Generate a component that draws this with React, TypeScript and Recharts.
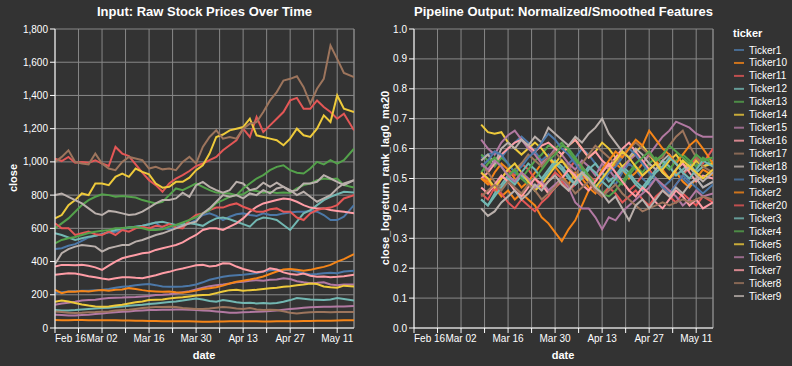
import { LineChart, Line, XAxis, YAxis, CartesianGrid, ReferenceLine } from "recharts";

// sampled every other day, last sample May 16
const dates = [
  "2025-02-16", "2025-02-18", "2025-02-20", "2025-02-22", "2025-02-24", "2025-02-26", "2025-02-28",
  "2025-03-02", "2025-03-04", "2025-03-06", "2025-03-08", "2025-03-10", "2025-03-12", "2025-03-14",
  "2025-03-16", "2025-03-18", "2025-03-20", "2025-03-22", "2025-03-24", "2025-03-26", "2025-03-28",
  "2025-03-30", "2025-04-01", "2025-04-03", "2025-04-05", "2025-04-07", "2025-04-09", "2025-04-11",
  "2025-04-13", "2025-04-15", "2025-04-17", "2025-04-19", "2025-04-21", "2025-04-23", "2025-04-25",
  "2025-04-27", "2025-04-29", "2025-05-01", "2025-05-03", "2025-05-05", "2025-05-07", "2025-05-09",
  "2025-05-11", "2025-05-13", "2025-05-16",
];
// the smoothed feature only exists from Mar 08 on (20-day window)
const rankDates = dates.slice(10);

const weekTicks = [
  "2025-02-16", "2025-02-23", "2025-03-02", "2025-03-09", "2025-03-16", "2025-03-23", "2025-03-30",
  "2025-04-06", "2025-04-13", "2025-04-20", "2025-04-27", "2025-05-04", "2025-05-11",
];
const weekLabels = ["Feb 16", "", "Mar 02", "", "Mar 16", "", "Mar 30", "", "Apr 13", "", "Apr 27", "", "May 11"];

const closeTicks = [0, 200, 400, 600, 800, 1000, 1200, 1400, 1600, 1800];
const rankTicks = [0, 0.1, 0.2, 0.3, 0.4, 0.5, 0.6, 0.7, 0.8, 0.9, 1];

const tickers = [
  "Ticker1", "Ticker10", "Ticker11", "Ticker12", "Ticker13", "Ticker14", "Ticker15", "Ticker16", "Ticker17", "Ticker18",
  "Ticker19", "Ticker2", "Ticker20", "Ticker3", "Ticker4", "Ticker5", "Ticker6", "Ticker7", "Ticker8", "Ticker9",
];
const colors = [
  "#4c78a8", "#f58518", "#e45756", "#72b7b2", "#54a24b", "#eeca3b", "#b279a2", "#ff9da6", "#9d755d", "#bab0ac",
  "#4c78a8", "#f58518", "#e45756", "#72b7b2", "#54a24b", "#eeca3b", "#b279a2", "#ff9da6", "#9d755d", "#bab0ac",
];

// raw close prices
const closeT1 = [475, 480, 495, 505, 525, 545, 555, 565, 575, 580, 590, 605, 610, 615, 625, 635, 600, 595, 605, 615, 630, 650, 680, 690, 675, 650, 670, 685, 690, 680, 675, 690, 680, 680, 690, 695, 700, 700, 705, 700, 680, 650, 650, 670, 740];
const closeT10 = [48, 47, 47, 48, 48, 47, 46, 46, 47, 47, 45, 45, 44, 43, 42, 42, 41, 40, 40, 40, 40, 39, 38, 38, 39, 39, 40, 40, 41, 40, 40, 39, 39, 40, 40, 41, 41, 42, 42, 43, 43, 44, 45, 46, 47];
const closeT11 = [1020, 1005, 1030, 995, 1000, 995, 1010, 990, 975, 1090, 1050, 1035, 985, 935, 890, 860, 820, 870, 900, 920, 945, 975, 990, 1010, 1030, 1070, 1100, 1130, 1200, 1150, 1270, 1180, 1220, 1260, 1300, 1370, 1385, 1320, 1320, 1370, 1330, 1300, 1260, 1290, 1190];
const closeT12 = [570, 560, 545, 530, 540, 550, 555, 565, 580, 590, 600, 605, 610, 615, 625, 635, 640, 630, 620, 625, 630, 625, 615, 640, 660, 665, 655, 640, 625, 610, 650, 665, 660, 650, 620, 590, 640, 690, 710, 740, 770, 790, 805, 820, 815];
const closeT13 = [600, 630, 660, 700, 740, 770, 790, 805, 800, 790, 795, 790, 785, 770, 760, 750, 760, 800, 840, 830, 850, 870, 850, 830, 815, 813, 810, 800, 805, 830, 825, 815, 820, 813, 815, 813, 840, 860, 870, 890, 900, 895, 900, 860, 845];
const closeT14 = [660, 680, 740, 770, 810, 800, 870, 870, 860, 910, 930, 910, 960, 940, 925, 870, 845, 850, 880, 880, 905, 950, 980, 1050, 1150, 1165, 1190, 1200, 1210, 1260, 1160, 1150, 1140, 1130, 1100, 1140, 1200, 1160, 1150, 1200, 1280, 1240, 1400, 1320, 1300];
const closeT15 = [140, 148, 152, 158, 165, 168, 170, 176, 180, 182, 183, 185, 186, 190, 193, 198, 200, 203, 208, 215, 222, 232, 242, 252, 258, 262, 268, 275, 278, 285, 288, 285, 290, 292, 300, 295, 282, 275, 270, 272, 275, 262, 258, 262, 262];
const closeT16 = [370, 380, 380, 378, 380, 375, 365, 350, 375, 400, 420, 430, 440, 450, 455, 470, 480, 490, 500, 515, 540, 560, 590, 600, 600, 590, 610, 630, 660, 700, 730, 750, 760, 770, 780, 775, 760, 740, 725, 720, 720, 710, 705, 700, 690];
const closeT17 = [1000, 1030, 1070, 1000, 990, 985, 1050, 990, 960, 950, 1000, 1030, 1020, 1010, 960, 970, 955, 960, 950, 1000, 1030, 990, 1090, 1150, 1190, 1140, 1150, 1140, 1200, 1230, 1240, 1300, 1370, 1420, 1490, 1500, 1515, 1450, 1350, 1440, 1500, 1700, 1620, 1535, 1510];
const closeT18 = [800, 810, 790, 770, 750, 720, 690, 680, 705, 700, 690, 680, 685, 700, 725, 750, 770, 770, 780, 815, 790, 860, 880, 850, 830, 815, 830, 880, 870, 830, 840, 875, 850, 875, 850, 820, 830, 870, 870, 880, 920, 900, 880, 860, 890];
const closeT19 = [210, 215, 220, 222, 225, 225, 228, 230, 235, 242, 248, 252, 258, 262, 265, 258, 250, 248, 248, 250, 255, 262, 275, 290, 300, 308, 315, 318, 320, 325, 330, 340, 348, 350, 348, 350, 340, 330, 322, 325, 330, 332, 330, 340, 345];
const closeT2 = [230, 210, 220, 218, 222, 220, 225, 228, 225, 230, 232, 240, 235, 228, 222, 220, 218, 220, 215, 212, 218, 225, 235, 240, 245, 255, 268, 278, 285, 292, 300, 310, 325, 340, 352, 355, 350, 345, 350, 360, 368, 380, 400, 415, 445];
const closeT20 = [630, 600, 600, 560, 570, 580, 565, 560, 580, 560, 590, 580, 600, 610, 600, 615, 610, 625, 605, 600, 650, 680, 690, 710, 725, 725, 740, 750, 730, 715, 700, 700, 715, 720, 700, 700, 665, 650, 690, 710, 720, 725, 740, 780, 800];
const closeT3 = [108, 106, 105, 108, 112, 115, 118, 120, 122, 126, 130, 134, 137, 140, 144, 148, 152, 156, 160, 165, 172, 178, 172, 162, 158, 168, 162, 155, 150, 152, 148, 150, 148, 150, 158, 168, 180, 176, 172, 170, 168, 172, 180, 175, 165];
const closeT4 = [510, 530, 540, 548, 560, 572, 580, 585, 590, 600, 602, 605, 608, 600, 590, 590, 595, 610, 620, 635, 650, 668, 690, 710, 752, 770, 790, 800, 840, 870, 900, 920, 950, 970, 980, 950, 935, 930, 960, 1000, 985, 1010, 990, 1010, 1080];
const closeT5 = [158, 165, 160, 150, 142, 135, 130, 128, 130, 135, 140, 148, 155, 160, 168, 170, 172, 178, 182, 185, 190, 195, 198, 200, 210, 220, 228, 230, 225, 228, 230, 235, 240, 242, 248, 252, 258, 262, 268, 265, 250, 245, 242, 255, 250];
const closeT6 = [80, 78, 76, 76, 78, 80, 84, 88, 92, 95, 98, 100, 104, 106, 108, 108, 110, 110, 112, 112, 110, 108, 106, 104, 100, 96, 92, 92, 95, 96, 98, 100, 102, 106, 110, 114, 118, 122, 125, 127, 128, 128, 130, 130, 133];
const closeT7 = [320, 325, 330, 328, 320, 312, 305, 298, 292, 300, 305, 305, 302, 300, 308, 318, 330, 338, 350, 358, 368, 378, 380, 370, 375, 390, 388, 370, 355, 345, 335, 340, 360, 352, 335, 325, 320, 328, 315, 308, 310, 305, 308, 312, 320];
const closeT8 = [100, 96, 92, 90, 92, 95, 96, 98, 100, 105, 108, 110, 115, 120, 124, 126, 126, 128, 126, 120, 118, 115, 115, 118, 122, 126, 124, 118, 115, 120, 112, 108, 110, 108, 100, 92, 88, 92, 95, 96, 97, 95, 96, 97, 96];
const closeT9 = [385, 450, 475, 490, 500, 495, 490, 460, 480, 490, 500, 500, 520, 530, 545, 560, 570, 585, 600, 615, 630, 640, 690, 720, 760, 800, 790, 800, 780, 810, 800, 830, 810, 840, 850, 830, 800, 820, 790, 760, 780, 800, 840, 870, 890];

// close_logreturn_rank_lag0_ma20
const rankT1 = [0.57, 0.58, 0.59, 0.57, 0.6, 0.62, 0.64, 0.62, 0.59, 0.56, 0.58, 0.55, 0.53, 0.55, 0.57, 0.6, 0.58, 0.55, 0.52, 0.5, 0.48, 0.52, 0.55, 0.53, 0.5, 0.48, 0.5, 0.47, 0.49, 0.52, 0.5, 0.48, 0.5, 0.47, 0.49];
const rankT10 = [0.5, 0.48, 0.52, 0.55, 0.53, 0.5, 0.47, 0.49, 0.52, 0.55, 0.57, 0.54, 0.51, 0.48, 0.52, 0.5, 0.47, 0.45, 0.49, 0.52, 0.55, 0.53, 0.5, 0.52, 0.55, 0.58, 0.56, 0.53, 0.5, 0.52, 0.49, 0.47, 0.5, 0.53, 0.51];
const rankT11 = [0.52, 0.49, 0.46, 0.5, 0.53, 0.51, 0.55, 0.53, 0.5, 0.47, 0.49, 0.52, 0.5, 0.53, 0.56, 0.54, 0.51, 0.49, 0.52, 0.55, 0.52, 0.49, 0.46, 0.48, 0.51, 0.53, 0.5, 0.47, 0.45, 0.48, 0.51, 0.54, 0.57, 0.55, 0.6];
const rankT12 = [0.43, 0.41, 0.45, 0.48, 0.51, 0.49, 0.52, 0.55, 0.53, 0.5, 0.53, 0.56, 0.54, 0.51, 0.48, 0.5, 0.53, 0.55, 0.52, 0.49, 0.51, 0.54, 0.52, 0.49, 0.47, 0.5, 0.53, 0.56, 0.54, 0.51, 0.53, 0.55, 0.52, 0.54, 0.56];
const rankT13 = [0.58, 0.56, 0.54, 0.57, 0.55, 0.52, 0.5, 0.53, 0.56, 0.58, 0.61, 0.6, 0.62, 0.59, 0.56, 0.53, 0.5, 0.47, 0.45, 0.47, 0.5, 0.48, 0.51, 0.54, 0.52, 0.55, 0.57, 0.55, 0.53, 0.56, 0.58, 0.56, 0.54, 0.57, 0.55];
const rankT14 = [0.68, 0.655, 0.65, 0.655, 0.62, 0.6, 0.58, 0.6, 0.62, 0.6, 0.57, 0.55, 0.58, 0.61, 0.63, 0.6, 0.57, 0.59, 0.62, 0.6, 0.57, 0.54, 0.56, 0.59, 0.61, 0.58, 0.55, 0.53, 0.56, 0.58, 0.55, 0.53, 0.56, 0.54, 0.55];
const rankT15 = [0.63, 0.6, 0.58, 0.62, 0.645, 0.66, 0.63, 0.6, 0.58, 0.55, 0.57, 0.6, 0.58, 0.55, 0.53, 0.56, 0.54, 0.51, 0.55, 0.53, 0.5, 0.53, 0.56, 0.58, 0.55, 0.58, 0.61, 0.64, 0.66, 0.69, 0.68, 0.67, 0.65, 0.64, 0.64];
const rankT16 = [0.5, 0.52, 0.55, 0.58, 0.6, 0.62, 0.63, 0.61, 0.59, 0.61, 0.62, 0.6, 0.58, 0.61, 0.63, 0.6, 0.57, 0.59, 0.56, 0.54, 0.57, 0.6, 0.62, 0.59, 0.56, 0.53, 0.55, 0.52, 0.5, 0.53, 0.55, 0.52, 0.49, 0.51, 0.5];
const rankT17 = [0.55, 0.52, 0.49, 0.47, 0.5, 0.53, 0.55, 0.58, 0.56, 0.54, 0.57, 0.59, 0.56, 0.54, 0.51, 0.55, 0.58, 0.61, 0.59, 0.57, 0.55, 0.58, 0.6, 0.62, 0.6, 0.58, 0.56, 0.57, 0.61, 0.64, 0.66, 0.61, 0.57, 0.54, 0.52];
const rankT18 = [0.56, 0.58, 0.55, 0.6, 0.62, 0.6, 0.63, 0.61, 0.64, 0.62, 0.67, 0.65, 0.63, 0.61, 0.64, 0.62, 0.65, 0.67, 0.7, 0.65, 0.62, 0.59, 0.57, 0.6, 0.58, 0.55, 0.53, 0.56, 0.58, 0.55, 0.52, 0.54, 0.51, 0.49, 0.52];
const rankT19 = [0.54, 0.56, 0.59, 0.58, 0.55, 0.52, 0.54, 0.57, 0.59, 0.62, 0.65, 0.63, 0.6, 0.58, 0.55, 0.52, 0.5, 0.47, 0.49, 0.52, 0.54, 0.57, 0.6, 0.58, 0.55, 0.52, 0.5, 0.47, 0.45, 0.48, 0.51, 0.49, 0.47, 0.45, 0.48];
const rankT2 = [0.5, 0.49, 0.47, 0.44, 0.46, 0.43, 0.45, 0.43, 0.41, 0.37, 0.35, 0.32, 0.29, 0.33, 0.36, 0.41, 0.46, 0.49, 0.53, 0.56, 0.59, 0.57, 0.6, 0.63, 0.61, 0.66, 0.63, 0.6, 0.58, 0.55, 0.58, 0.61, 0.63, 0.6, 0.55];
const rankT20 = [0.45, 0.43, 0.47, 0.45, 0.42, 0.4, 0.43, 0.41, 0.39, 0.42, 0.44, 0.47, 0.49, 0.46, 0.48, 0.51, 0.49, 0.46, 0.44, 0.47, 0.45, 0.42, 0.44, 0.46, 0.43, 0.41, 0.44, 0.46, 0.44, 0.42, 0.45, 0.43, 0.41, 0.44, 0.42];
const rankT3 = [0.43, 0.41, 0.44, 0.47, 0.5, 0.48, 0.51, 0.49, 0.46, 0.49, 0.52, 0.55, 0.53, 0.5, 0.48, 0.51, 0.54, 0.52, 0.49, 0.47, 0.5, 0.53, 0.51, 0.48, 0.46, 0.49, 0.52, 0.54, 0.57, 0.55, 0.52, 0.5, 0.53, 0.56, 0.54];
const rankT4 = [0.52, 0.55, 0.57, 0.54, 0.51, 0.53, 0.5, 0.48, 0.5, 0.53, 0.56, 0.58, 0.61, 0.6, 0.57, 0.54, 0.51, 0.48, 0.45, 0.44, 0.46, 0.49, 0.52, 0.55, 0.57, 0.59, 0.56, 0.58, 0.61, 0.59, 0.57, 0.55, 0.58, 0.56, 0.57];
const rankT5 = [0.52, 0.5, 0.47, 0.5, 0.53, 0.55, 0.52, 0.49, 0.46, 0.48, 0.51, 0.54, 0.56, 0.53, 0.5, 0.52, 0.49, 0.47, 0.5, 0.53, 0.56, 0.59, 0.57, 0.54, 0.51, 0.53, 0.55, 0.52, 0.5, 0.53, 0.56, 0.54, 0.52, 0.5, 0.53];
const rankT6 = [0.55, 0.53, 0.56, 0.54, 0.51, 0.49, 0.52, 0.5, 0.47, 0.49, 0.46, 0.48, 0.5, 0.47, 0.42, 0.4, 0.4, 0.37, 0.33, 0.37, 0.36, 0.39, 0.41, 0.43, 0.45, 0.47, 0.5, 0.48, 0.46, 0.44, 0.41, 0.43, 0.46, 0.44, 0.45];
const rankT7 = [0.47, 0.45, 0.48, 0.51, 0.49, 0.46, 0.44, 0.47, 0.5, 0.48, 0.45, 0.47, 0.5, 0.53, 0.51, 0.48, 0.46, 0.49, 0.52, 0.55, 0.52, 0.49, 0.46, 0.44, 0.47, 0.45, 0.42, 0.4, 0.43, 0.46, 0.44, 0.41, 0.43, 0.4, 0.42];
const rankT8 = [0.44, 0.46, 0.48, 0.46, 0.49, 0.47, 0.45, 0.48, 0.46, 0.43, 0.45, 0.47, 0.5, 0.48, 0.45, 0.47, 0.49, 0.46, 0.44, 0.46, 0.48, 0.45, 0.43, 0.41, 0.39, 0.4, 0.41, 0.42, 0.41, 0.42, 0.43, 0.42, 0.43, 0.44, 0.43];
const rankT9 = [0.4, 0.375, 0.39, 0.42, 0.44, 0.46, 0.43, 0.45, 0.48, 0.46, 0.49, 0.51, 0.48, 0.46, 0.49, 0.52, 0.5, 0.47, 0.45, 0.42, 0.44, 0.4, 0.36, 0.41, 0.43, 0.4, 0.43, 0.46, 0.44, 0.47, 0.45, 0.48, 0.5, 0.47, 0.49];

const closeSeries = [
  closeT1, closeT10, closeT11, closeT12, closeT13, closeT14, closeT15, closeT16, closeT17, closeT18,
  closeT19, closeT2, closeT20, closeT3, closeT4, closeT5, closeT6, closeT7, closeT8, closeT9,
];
const rankSeries = [
  rankT1, rankT10, rankT11, rankT12, rankT13, rankT14, rankT15, rankT16, rankT17, rankT18,
  rankT19, rankT2, rankT20, rankT3, rankT4, rankT5, rankT6, rankT7, rankT8, rankT9,
];

const FONT = '"Liberation Sans", Arial, Helvetica, sans-serif';
const toTs = (d: string) => Date.parse(d + "T00:00:00Z");

const startTs = toTs(dates[0]);
const endTs = toTs(dates[dates.length - 1]);
const weekTs = weekTicks.map(toTs);

function buildRows(ds: string[], series: number[][]) {
  return ds.map((d, i) => {
    const row: Record<string, number> = { t: toTs(d) };
    tickers.forEach((tk, k) => {
      row[tk] = series[k][i];
    });
    return row;
  });
}

const closeRows = buildRows(dates, closeSeries);
const rankRows = buildRows(rankDates, rankSeries);

function DateTick(props: any) {
  const { x, y, payload } = props;
  const idx = weekTs.indexOf(payload.value);
  const label = idx >= 0 ? weekLabels[idx] : "";
  return (
    <text
      x={x}
      y={y}
      dy="0.71em"
      textAnchor={idx === 0 ? "start" : "middle"}
      fill="#fff"
      fontSize={10}
      fontFamily={FONT}
    >
      {label}
    </text>
  );
}

interface PanelProps {
  rows: Record<string, number>[];
  ticks: number[];
  domain: [number, number];
  format: (v: number) => string;
}

function Panel({ rows, ticks, domain, format }: PanelProps) {
  return (
    <LineChart width={360} height={366} data={rows} margin={{ top: 29, right: 6, bottom: 0, left: 0 }}>
      <CartesianGrid stroke="#888" strokeWidth={1} />
      <ReferenceLine x={endTs} stroke="#888" strokeWidth={1} />
      <XAxis
        dataKey="t"
        type="number"
        domain={[startTs, endTs]}
        ticks={weekTs}
        interval={0}
        height={38}
        tick={<DateTick />}
        tickSize={5}
        tickMargin={2}
        axisLine={{ stroke: "#fff" }}
        tickLine={{ stroke: "#fff" }}
        allowDataOverflow
      />
      <YAxis
        type="number"
        domain={domain}
        ticks={ticks}
        interval={0}
        width={55}
        tickFormatter={format}
        tick={{ fill: "#fff", fontSize: 10, fontFamily: FONT }}
        tickSize={5}
        tickMargin={2}
        axisLine={{ stroke: "#fff" }}
        tickLine={{ stroke: "#fff" }}
      />
      {tickers.map((tk, k) => (
        <Line
          key={tk}
          dataKey={tk}
          type="linear"
          stroke={colors[k]}
          strokeWidth={2}
          dot={false}
          isAnimationActive={false}
        />
      ))}
    </LineChart>
  );
}

const titleStyle: React.CSSProperties = {
  position: "absolute",
  top: 4,
  fontSize: 13,
  fontWeight: "bold",
  color: "#fff",
  textAlign: "center",
  whiteSpace: "nowrap",
  lineHeight: "16px",
};

const axisTitle: React.CSSProperties = {
  position: "absolute",
  fontSize: 11,
  fontWeight: "bold",
  color: "#fff",
  whiteSpace: "nowrap",
  lineHeight: "13px",
};

export default function App() {
  return (
    <div
      style={{
        position: "absolute",
        left: 0,
        top: 0,
        width: 792,
        height: 366,
        background: "#333",
        fontFamily: FONT,
        overflow: "hidden",
      }}
    >
      <div style={{ position: "absolute", left: 0, top: 0 }}>
        <Panel rows={closeRows} ticks={closeTicks} domain={[0, 1800]} format={(v) => v.toLocaleString("en-US")} />
      </div>
      <div style={{ position: "absolute", left: 359, top: 0 }}>
        <Panel rows={rankRows} ticks={rankTicks} domain={[0, 1]} format={(v) => v.toFixed(1)} />
      </div>

      <div style={{ ...titleStyle, left: 55, width: 299 }}>Input: Raw Stock Prices Over Time</div>
      <div style={{ ...titleStyle, left: 414, width: 299 }}>Pipeline Output: Normalized/Smoothed Features</div>

      <div style={{ ...axisTitle, left: 204, top: 355, transform: "translate(-50%, -50%)" }}>date</div>
      <div style={{ ...axisTitle, left: 563, top: 355, transform: "translate(-50%, -50%)" }}>date</div>
      <div style={{ ...axisTitle, left: 13, top: 178, transform: "translate(-50%, -50%) rotate(-90deg)" }}>close</div>
      <div style={{ ...axisTitle, left: 385, top: 178, transform: "translate(-50%, -50%) rotate(-90deg)" }}>
        close_logreturn_rank_lag0_ma20
      </div>

      <svg style={{ position: "absolute", left: 725, top: 0 }} width={67} height={366}>
        <text x={8} y={37} fill="#fff" fontSize={11} fontWeight="bold" fontFamily={FONT}>
          ticker
        </text>
        {tickers.map((tk, k) => {
          const cy = 50 + k * 12.95;
          return (
            <g key={tk}>
              <line x1={9} x2={19} y1={cy} y2={cy} stroke={colors[k]} strokeWidth={2} opacity={0.8} />
              <text x={24} y={cy + 3.5} fill="#fff" fontSize={10} fontFamily={FONT}>
                {tk}
              </text>
            </g>
          );
        })}
      </svg>
    </div>
  );
}
